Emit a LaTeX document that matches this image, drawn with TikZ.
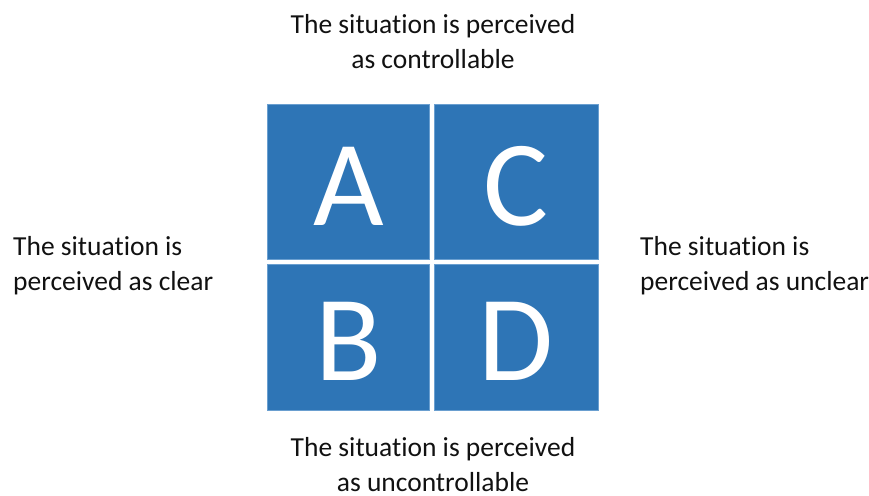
\documentclass[tikz,border=0pt]{standalone}
\usepackage{fontspec}
\setmainfont[Ligatures=NoCommon]{Carlito}
\definecolor{quadblue}{HTML}{2E75B6}
\definecolor{quadedge}{HTML}{6A9FD0}
\definecolor{captiongray}{HTML}{111111}
\tikzset{
  quadrant/.style={fill=quadblue, draw=quadedge, line width=0.8pt, text=white,
    inner sep=0pt, text height=86pt, text depth=0pt, font=\fontsize{122}{122}\selectfont},
  caption/.style={text=captiongray, inner sep=0pt, font=\fontsize{27.5}{35}\selectfont}
}
\begin{document}
\begin{tikzpicture}[x=1pt, y=-1pt]

    % Drawing Parameters
    \pgfmathsetmacro{\leftx}{267}%
    \pgfmathsetmacro{\midx}{432}%
    \pgfmathsetmacro{\rightx}{599}%
    \pgfmathsetmacro{\topy}{104}%
    \pgfmathsetmacro{\midy}{262}%
    \pgfmathsetmacro{\bottomy}{410}%

    \useasboundingbox (0,0) rectangle (869,495);

    % Quadrants
    \node[quadrant, minimum width=162pt, minimum height=155pt] (qa) at ({(\leftx+\midx-2)/2}, {(\topy+\midy-2)/2}) {A};
    \node[quadrant, minimum width=164pt, minimum height=155pt] (qc) at ({(\midx+2+\rightx)/2}, {(\topy+\midy-2)/2}) {C};
    \node[quadrant, minimum width=162pt, minimum height=146pt] (qb) at ({(\leftx+\midx-2)/2}, {(\midy+2+\bottomy)/2}) {B};
    \node[quadrant, minimum width=164pt, minimum height=146pt] (qd) at ({(\midx+2+\rightx)/2}, {(\midy+2+\bottomy)/2}) {D};

    % Captions
    \node[caption, align=center] (controllable) at (433, 42) {The situation is perceived\\as controllable};
    \node[caption, align=center] (uncontrollable) at (433, 465) {The situation is perceived\\as uncontrollable};
    \node[caption, align=left, anchor=west] (clear) at (13, 266) {The situation is\\perceived as clear};
    \node[caption, align=left, anchor=west] (unclear) at (640, 266) {The situation is\\perceived as unclear};
  \end{tikzpicture}
\end{document}
